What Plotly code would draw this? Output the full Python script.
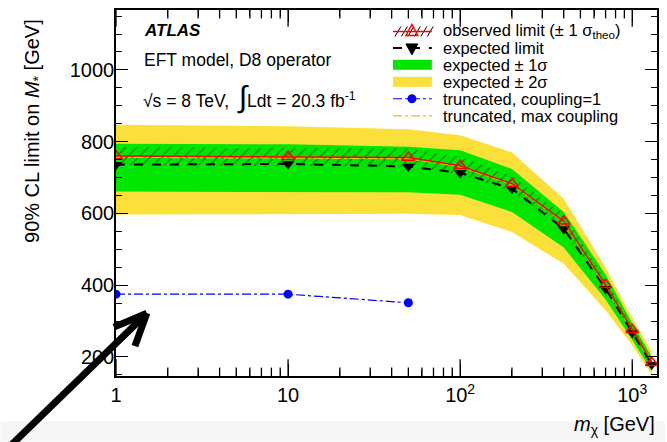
import plotly.graph_objects as go

# ---------------- data ----------------
m_chi = [1, 10, 50, 100, 200, 400, 700, 1000, 1300]
observed = [760, 758, 756, 733, 683, 578, 401, 276, 184]
obs_theo_up = [785, 783, 781, 758, 706, 598, 415, 286, 190]
obs_theo_dn = [735, 733, 731, 709, 660, 558, 387, 266, 178]
expected = [736, 738, 731, 713, 669, 557, 390, 267, 179]
exp_1s_up = [794, 793, 786, 776, 724, 604, 430, 294, 200]
exp_1s_dn = [661, 660, 659, 652, 604, 505, 360, 247, 160]
exp_2s_up = [847, 843, 835, 818, 770, 641, 450, 308, 215]
exp_2s_dn = [597, 598, 599, 596, 548, 460, 330, 233, 150]
max_coupling = [757, 755, 753, 731, 681, 576, 399, 274, 182]
trunc_m = [1, 10, 50]
trunc_coupling1 = [375, 375, 351]

x_label_alias = {"100": "10<sup>2</sup>", "1000": "10<sup>3</sup>"}
x_major_ticks = [1, 10, 100, 1000]
x_minor_ticks = [2, 3, 4, 5, 6, 7, 8, 9, 20, 30, 40, 50, 60, 70, 80, 90,
                 200, 300, 400, 500, 600, 700, 800, 900]
y_tickvals = [200, 400, 600, 800, 1000]

legend_labels = [
    "observed limit (± 1 σ<sub>theo</sub>)",
    "expected limit",
    "expected ± 1σ",
    "expected ± 2σ",
    "truncated, coupling=1",
    "truncated, max coupling",
]

YELLOW = "#FCE03A"
GREEN = "#00E600"
ORANGE = "#FFC125"
FONT = "Liberation Sans, Arial, sans-serif"

W, H = 667, 442
L, R, T, B = 116, 8, 9, 66
PW, PH = W - L - R, H - T - B
XRANGE = [0, 3.144]
YRANGE = [147, 1167]


def px(x):
    return (x - L) / PW


def py(y):
    return (H - B - y) / PH


fig = go.Figure()

# 2 sigma band
fig.add_trace(go.Scatter(x=m_chi, y=exp_2s_up, mode="lines", line=dict(width=0, color=YELLOW),
                         showlegend=False, hoverinfo="skip"))
fig.add_trace(go.Scatter(x=m_chi, y=exp_2s_dn, mode="lines", line=dict(width=0, color=YELLOW),
                         fill="tonexty", fillcolor=YELLOW, showlegend=False, hoverinfo="skip"))
# 1 sigma band
fig.add_trace(go.Scatter(x=m_chi, y=exp_1s_up, mode="lines", line=dict(width=0, color=GREEN),
                         showlegend=False, hoverinfo="skip"))
fig.add_trace(go.Scatter(x=m_chi, y=exp_1s_dn, mode="lines", line=dict(width=0, color=GREEN),
                         fill="tonexty", fillcolor=GREEN, showlegend=False, hoverinfo="skip"))
# theory hatch band
fig.add_trace(go.Scatter(x=m_chi, y=obs_theo_up, mode="lines", line=dict(width=0, color="black"),
                         showlegend=False, hoverinfo="skip"))
fig.add_trace(go.Scatter(x=m_chi, y=obs_theo_dn, mode="lines", line=dict(width=0, color="black"),
                         fill="tonexty", fillcolor="rgba(0,0,0,0)",
                         fillpattern=dict(shape="/", fgcolor="black", bgcolor="rgba(0,0,0,0)",
                                          size=8, solidity=0.12),
                         showlegend=False, hoverinfo="skip"))
# truncated, max coupling
fig.add_trace(go.Scatter(x=m_chi, y=max_coupling, mode="lines",
                         line=dict(color=ORANGE, width=1.5, dash="dashdot"), showlegend=False))
# expected
fig.add_trace(go.Scatter(x=m_chi, y=expected, mode="lines+markers",
                         line=dict(color="black", width=2, dash="dash"),
                         marker=dict(symbol="triangle-down", size=11, color="black"),
                         showlegend=False))
# observed
fig.add_trace(go.Scatter(x=m_chi, y=observed, mode="lines+markers",
                         line=dict(color="red", width=1.5),
                         marker=dict(symbol="triangle-up-open", size=11, color="red",
                                     line=dict(width=1.5, color="red")),
                         showlegend=False))
# truncated, coupling = 1
fig.add_trace(go.Scatter(x=trunc_m, y=trunc_coupling1, mode="lines+markers",
                         line=dict(color="blue", width=1.2, dash="dashdot"),
                         marker=dict(symbol="circle", size=9, color="blue"),
                         showlegend=False))

# x-axis tick marks on bottom and top frame (clipped to the plot area -> inside ticks)
for yedge in YRANGE:
    fig.add_trace(go.Scatter(x=x_major_ticks, y=[yedge] * len(x_major_ticks), mode="markers",
                             marker=dict(symbol="line-ns", size=24, color="black",
                                         line=dict(width=1.3, color="black")),
                             cliponaxis=True, showlegend=False, hoverinfo="skip"))
    fig.add_trace(go.Scatter(x=x_minor_ticks, y=[yedge] * len(x_minor_ticks), mode="markers",
                             marker=dict(symbol="line-ns", size=12, color="black",
                                         line=dict(width=1.3, color="black")),
                             cliponaxis=True, showlegend=False, hoverinfo="skip"))

shapes = []
annotations = []

# bottom grey strip
shapes.append(dict(type="rect", xref="paper", yref="paper", x0=px(0), x1=px(W), y0=py(H), y1=py(421),
                   fillcolor="#F6F6F6", line=dict(width=0), layer="below"))

# ---- manual legend ----
rows = [30.5, 47, 64, 81, 98, 115]
lx0, lx1, lxm = 394, 433, 413
# row 1: hatch + red line + open triangle
for i in range(6):
    hx = lx0 + 2 + i * 6.5
    shapes.append(dict(type="line", xref="paper", yref="paper", x0=px(hx), x1=px(hx + 6),
                       y0=py(rows[0] + 5), y1=py(rows[0] - 5), line=dict(color="black", width=1)))
shapes.append(dict(type="line", xref="paper", yref="paper", x0=px(lx0), x1=px(lx1),
                   y0=py(rows[0]), y1=py(rows[0]), line=dict(color="red", width=1.5)))
shapes.append(dict(type="path", xref="paper", yref="paper",
                   path=f"M {px(lxm-6)} {py(rows[0]+4)} L {px(lxm+6)} {py(rows[0]+4)} L {px(lxm)} {py(rows[0]-7)} Z",
                   line=dict(color="red", width=1.5), fillcolor="rgba(0,0,0,0)"))
# row 2: dashed + filled down triangle
shapes.append(dict(type="line", xref="paper", yref="paper", x0=px(lx0), x1=px(lx1),
                   y0=py(rows[1]), y1=py(rows[1]), line=dict(color="black", width=2, dash="dash")))
shapes.append(dict(type="path", xref="paper", yref="paper",
                   path=f"M {px(lxm-6)} {py(rows[1]-4)} L {px(lxm+6)} {py(rows[1]-4)} L {px(lxm)} {py(rows[1]+7)} Z",
                   line=dict(color="black", width=1), fillcolor="black"))
# rows 3/4: boxes
shapes.append(dict(type="rect", xref="paper", yref="paper", x0=px(lx0), x1=px(lx1),
                   y0=py(rows[2] + 5), y1=py(rows[2] - 5), fillcolor=GREEN, line=dict(width=0)))
shapes.append(dict(type="rect", xref="paper", yref="paper", x0=px(lx0), x1=px(lx1),
                   y0=py(rows[3] + 5), y1=py(rows[3] - 5), fillcolor=YELLOW, line=dict(width=0)))
# row 5: blue dash-dot with dot
shapes.append(dict(type="line", xref="paper", yref="paper", x0=px(lx0), x1=px(lx1),
                   y0=py(rows[4]), y1=py(rows[4]), line=dict(color="blue", width=1.2, dash="dashdot")))
shapes.append(dict(type="circle", xref="paper", yref="paper", x0=px(lxm - 4.5), x1=px(lxm + 4.5),
                   y0=py(rows[4] + 4.5), y1=py(rows[4] - 4.5), fillcolor="blue", line=dict(width=0)))
# row 6: orange dash-dot
shapes.append(dict(type="line", xref="paper", yref="paper", x0=px(lx0), x1=px(lx1),
                   y0=py(rows[5]), y1=py(rows[5]), line=dict(color=ORANGE, width=1.5, dash="dashdot")))

for lab, ry in zip(legend_labels, rows):
    annotations.append(dict(text=lab, xref="paper", yref="paper", x=px(443), y=py(ry),
                            xanchor="left", yanchor="middle", showarrow=False, borderpad=0,
                            font=dict(family=FONT, size=16.5, color="black")))

# ---- text labels ----
annotations.append(dict(text="<b><i>ATLAS</i></b>", xref="paper", yref="paper", x=px(142), y=py(30),
                        xanchor="left", yanchor="middle", showarrow=False,
                        font=dict(family=FONT, size=17, color="black")))
annotations.append(dict(text="EFT model, D8 operator", xref="paper", yref="paper", x=px(142), y=py(59),
                        xanchor="left", yanchor="middle", showarrow=False,
                        font=dict(family=FONT, size=17.5, color="black")))
annotations.append(dict(text="√s = 8 TeV,  <span style=\"font-size:30px\">∫</span>Ldt = 20.3 fb<sup>-1</sup>",
                        xref="paper", yref="paper", x=px(141), y=py(96),
                        xanchor="left", yanchor="middle", showarrow=False,
                        font=dict(family=FONT, size=17.5, color="black")))
# axis titles
annotations.append(dict(text="90% CL limit on <i>M</i><sub>*</sub> [GeV]", xref="paper", yref="paper",
                        x=px(33), y=py(130), textangle=-90, xanchor="center", yanchor="middle",
                        showarrow=False, font=dict(family=FONT, size=20, color="black")))
annotations.append(dict(text="<i>m</i><sub>χ</sub> [GeV]", xref="paper", yref="paper",
                        x=px(659), y=py(426), xanchor="right", yanchor="middle",
                        showarrow=False, font=dict(family=FONT, size=20, color="black")))

# ---- black arrow ----
arrow = dict(color="black", width=7)
shapes.append(dict(type="line", xref="paper", yref="paper", x0=px(8), y0=py(448), x1=px(145), y1=py(315),
                   line=arrow))
shapes.append(dict(type="line", xref="paper", yref="paper", x0=px(147), y0=py(313), x1=px(114), y1=py(327),
                   line=arrow))
shapes.append(dict(type="line", xref="paper", yref="paper", x0=px(147), y0=py(313), x1=px(135), y1=py(346),
                   line=arrow))

tick_common = dict(ticks="inside", ticklen=12, tickwidth=1.3, tickcolor="black",
                   showgrid=False, zeroline=False)
xminor = dict(ticks="inside", ticklen=6, tickwidth=1.3, tickcolor="black", showgrid=False,
              dtick="D1")
yminor = dict(ticks="inside", ticklen=6, tickwidth=1.3, tickcolor="black",
              dtick=50, tick0=0, showgrid=False)

fig.update_layout(
    width=W, height=H,
    margin=dict(l=L, r=R, t=T, b=B, pad=0),
    paper_bgcolor="white", plot_bgcolor="white",
    showlegend=False,
    shapes=shapes, annotations=annotations,
    font=dict(family=FONT, size=20, color="black"),
    xaxis=dict(type="log", range=XRANGE, tickmode="linear", tick0=0, dtick=1,
               exponentformat="none", separatethousands=False, labelalias=x_label_alias,
               minor=xminor, showline=True, linewidth=2, linecolor="black", mirror="allticks",
               tickfont=dict(family=FONT, size=20), **tick_common),
    yaxis=dict(range=YRANGE, tickvals=y_tickvals, minor=yminor,
               showline=True, linewidth=1.5, linecolor="black", mirror="allticks",
               tickfont=dict(family=FONT, size=20), ticklabelstandoff=-4, **tick_common),
)

fig.write_html("out.html", config={"displayModeBar": False},
               post_script="document.body.style.margin='0';document.body.style.padding='0';")
